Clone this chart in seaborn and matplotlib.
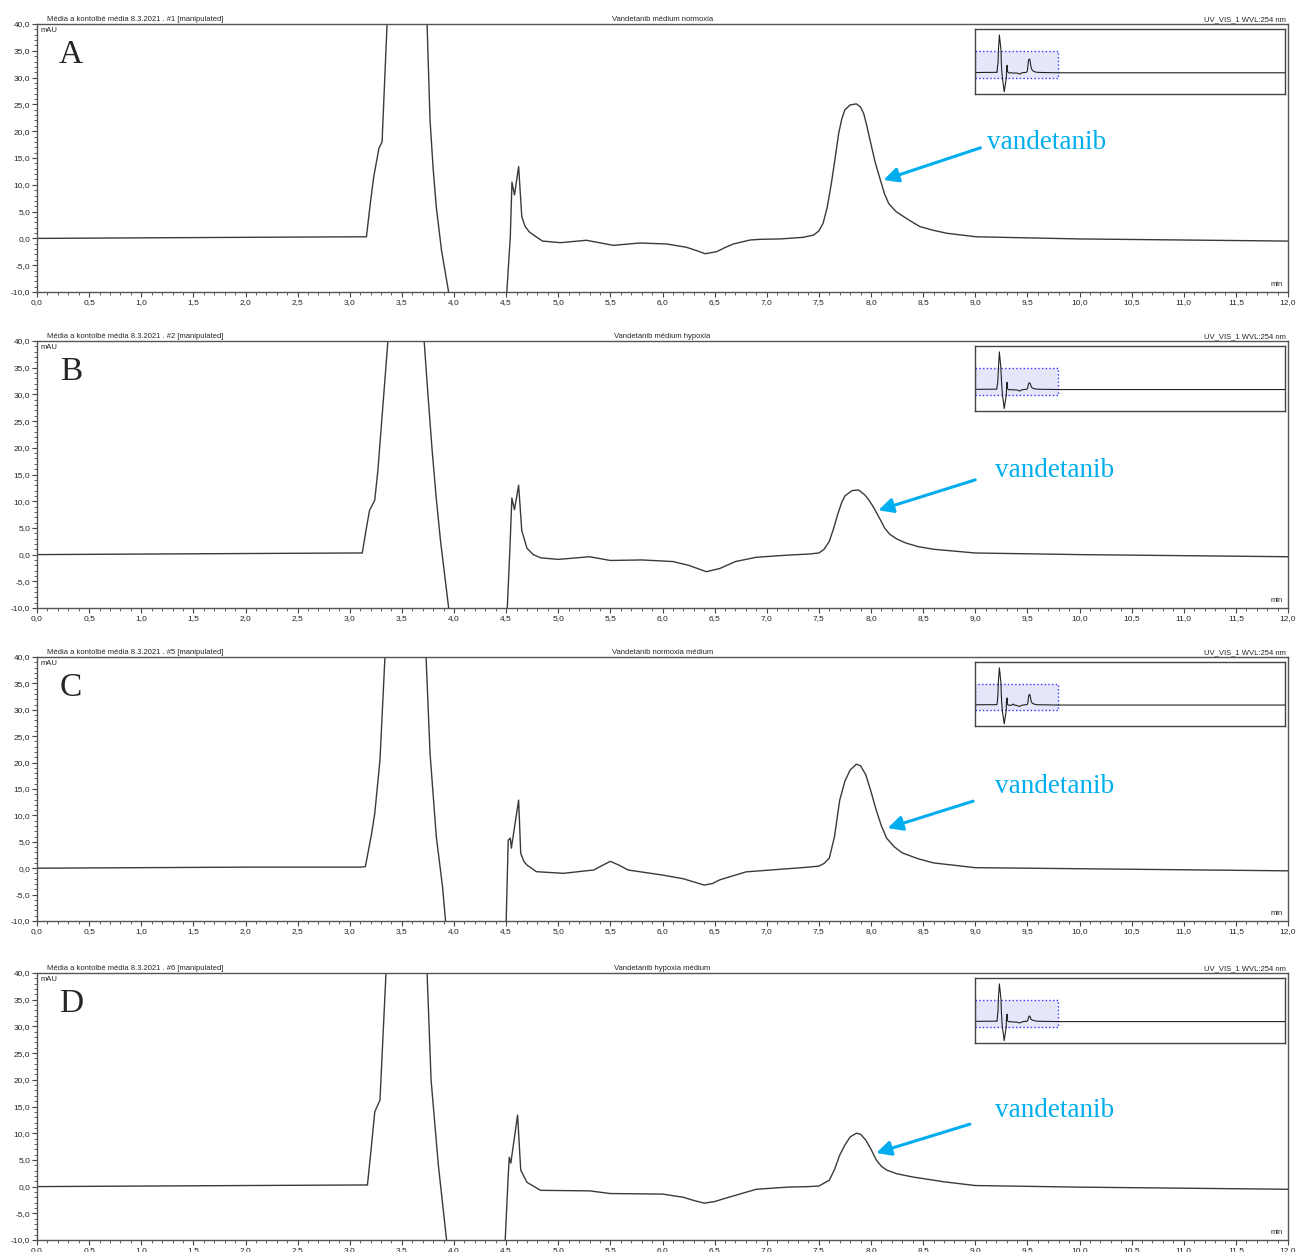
import numpy as np
import pandas as pd
import seaborn as sns
import matplotlib.pyplot as plt
from matplotlib.ticker import MultipleLocator, FuncFormatter
from matplotlib.patches import Rectangle

sns.set_style('ticks')
plt.rcParams['font.family'] = ['Liberation Sans', 'DejaVu Sans']

# retention time (min) / absorbance (mAU)
# (off-scale points are kept so the clipped peaks and the overview inset look right)
time_a = [0.0, 1.0, 2.0, 3.1, 3.16, 3.2, 3.23, 3.28, 3.31, 3.36, 3.5, 3.74, 3.77, 3.8, 3.83, 3.88,
          3.95, 4.2, 4.505, 4.54, 4.556, 4.58, 4.62, 4.65, 4.68, 4.72, 4.78, 4.85, 5.02, 5.27, 5.53,
          5.78, 6.04, 6.23, 6.33, 6.41, 6.52, 6.6, 6.68, 6.84, 6.94, 7.13, 7.35, 7.45, 7.5, 7.54,
          7.58, 7.62, 7.66, 7.69, 7.72, 7.75, 7.8, 7.86, 7.9, 7.93, 7.96, 7.99, 8.04, 8.09, 8.13,
          8.17, 8.24, 8.31, 8.4, 8.47, 8.6, 8.73, 9.01, 10.0, 11.0, 12.0]
mau_a = [0.0, 0.1, 0.2, 0.3, 0.3, 7.0, 11.5, 16.8, 18.0, 41.0, 70.0, 41.0, 22.1, 13.0, 5.9, -2.2,
         -10.2, -36.0, -10.5, 0.3, 10.5, 8.1, 13.4, 4.1, 2.3, 1.25, 0.4, -0.5, -0.8, -0.35, -1.3,
         -0.86, -1.04, -1.66, -2.3, -2.86, -2.48, -1.7, -1.04, -0.3, -0.17, -0.1, 0.2, 0.63, 1.4,
         2.8, 5.8, 10.3, 15.5, 19.6, 22.3, 24.0, 24.9, 25.1, 24.5, 23.3, 21.0, 18.4, 14.2, 10.9,
         8.3, 6.5, 5.0, 4.1, 3.0, 2.2, 1.5, 0.95, 0.3, -0.1, -0.3, -0.5]

time_b = [0.0, 1.0, 2.0, 3.05, 3.12, 3.16, 3.19, 3.24, 3.27, 3.37, 3.5, 3.71, 3.75, 3.79, 3.83,
          3.87, 3.95, 4.2, 4.51, 4.535, 4.555, 4.58, 4.62, 4.65, 4.70, 4.76, 4.83, 5.0, 5.3, 5.5,
          5.8, 6.1, 6.25, 6.42, 6.55, 6.7, 6.9, 7.2, 7.4, 7.5, 7.55, 7.6, 7.64, 7.68, 7.72, 7.75,
          7.82, 7.88, 7.94, 7.98, 8.02, 8.06, 8.09, 8.13, 8.18, 8.25, 8.33, 8.45, 8.6, 9.0, 10.0,
          11.0, 12.0]
mau_b = [0.0, 0.1, 0.2, 0.3, 0.3, 5.0, 8.3, 10.2, 15.8, 41.0, 70.0, 41.0, 30.0, 19.6, 10.5,
         2.7, -10.2, -36.0, -10.5, 0.5, 10.6, 8.4, 13.0, 4.5, 1.2, 0.0, -0.6, -0.9, -0.4, -1.1,
         -1.0, -1.3, -2.0, -3.2, -2.6, -1.3, -0.5, -0.1, 0.1, 0.3, 1.0, 2.5, 4.8, 7.5, 9.8, 11.0,
         12.0, 12.1, 11.2, 10.2, 9.0, 7.6, 6.5, 5.0, 3.8, 2.9, 2.2, 1.5, 1.0, 0.3, 0.0, -0.2, -0.4]

time_c = [0.0, 1.0, 2.0, 3.1, 3.15, 3.21, 3.24, 3.29, 3.34, 3.5, 3.73, 3.77, 3.83, 3.89, 3.92, 4.2,
          4.50, 4.52, 4.54, 4.55, 4.62, 4.64, 4.67, 4.70, 4.79, 5.05, 5.34, 5.42, 5.5, 5.58, 5.67,
          6.0, 6.2, 6.3, 6.4, 6.48, 6.55, 6.8, 7.2, 7.4, 7.5, 7.55, 7.6, 7.65, 7.7, 7.75, 7.8,
          7.86, 7.9, 7.95, 8.0, 8.05, 8.1, 8.15, 8.22, 8.3, 8.45, 8.6, 9.0, 10.0, 11.0, 12.0]
mau_c = [0.0, 0.1, 0.2, 0.2, 0.3, 6.6, 10.4, 20.5, 41.0, 70.0, 41.0, 21.8, 6.0, -3.5, -10.2, -36.0,
         -10.5, 5.3, 5.7, 3.8, 12.9, 2.8, 1.3, 0.6, -0.66, -0.97, -0.34, 0.5, 1.3, 0.6, -0.34,
         -1.3, -2.0, -2.6, -3.2, -2.9, -2.2, -0.7, -0.1, 0.2, 0.4, 0.9, 1.9, 6.0, 12.9, 16.5, 18.6,
         19.7, 19.4, 17.7, 14.5, 11.0, 8.0, 5.7, 4.1, 2.9, 1.8, 1.0, 0.1, -0.1, -0.3, -0.5]

time_d = [0.0, 1.0, 2.0, 3.1, 3.17, 3.21, 3.24, 3.29, 3.35, 3.5, 3.74, 3.78, 3.85, 3.93, 4.2,
          4.49, 4.52, 4.53, 4.545, 4.61, 4.64, 4.7, 4.83, 5.3, 5.5, 6.0, 6.2, 6.3, 6.4, 6.5, 6.6,
          6.9, 7.2, 7.4, 7.5, 7.6, 7.65, 7.7, 7.75, 7.8, 7.86, 7.9, 7.95, 8.0, 8.05, 8.1, 8.15,
          8.25, 8.4, 8.7, 9.0, 10.0, 11.0, 12.0]
mau_d = [0.0, 0.1, 0.2, 0.3, 0.3, 8.0, 14.0, 16.2, 41.0, 70.0, 41.0, 20.0, 4.0, -10.2, -36.0,
         -10.5, 2.0, 5.5, 4.4, 13.4, 3.1, 0.8, -0.7, -0.8, -1.3, -1.4, -2.0, -2.6, -3.1, -2.8,
         -2.2, -0.5, -0.1, 0.0, 0.1, 1.2, 3.2, 5.9, 7.8, 9.3, 10.0, 9.8, 8.7, 7.0, 5.0, 3.8, 3.1,
         2.4, 1.8, 0.9, 0.2, -0.1, -0.3, -0.5]

run_end = 45.0  # total run length shown in the overview inset
letters = ['A', 'B', 'C', 'D']
injections = ['#1', '#2', '#5', '#6']
samples = ['Vandetanib médium normoxia', 'Vandetanib médium hypoxia',
           'Vandetanib normoxia médium', 'Vandetanib hypoxia médium']
# arrow tail / head (min, mAU) and label position for "vandetanib"
arrow_tail = [(9.05, 16.9), (9.0, 14.0), (8.98, 12.7), (8.95, 11.7)]
arrow_head = [(8.12, 10.9), (8.07, 8.3), (8.16, 7.6), (8.05, 6.3)]
label_pos = [(9.11, 17.8), (9.19, 15.8), (9.19, 15.4), (9.19, 14.3)]

traces = [(time_a, mau_a), (time_b, mau_b), (time_c, mau_c), (time_d, mau_d)]

W, H = 1298, 1252
# axes boxes in pixels: left, top, right, bottom
boxes = [(37, 24, 1288, 292), (37, 341, 1288, 608), (37, 657, 1288, 921), (37, 973, 1288, 1240)]

fig = plt.figure(figsize=(W / 100, H / 100), dpi=100)
comma = FuncFormatter(lambda v, p: ('%.1f' % v).replace('.', ','))
trace_col = '#3a3a3a'
blue = '#00AEEF'

for i, (t, y) in enumerate(traces):
    l, tp, r, b = boxes[i]
    ax = fig.add_axes([l / W, 1 - b / H, (r - l) / W, (b - tp) / H])
    df = pd.DataFrame({'min': t, 'mAU': y})
    sns.lineplot(data=df, x='min', y='mAU', ax=ax, color=trace_col, lw=1.0, sort=False)
    ax.set_xlim(0, 12)
    ax.set_ylim(-10, 40)
    ax.set_xlabel('')
    ax.set_ylabel('')
    ax.xaxis.set_major_locator(MultipleLocator(0.5))
    ax.xaxis.set_minor_locator(MultipleLocator(0.1))
    ax.yaxis.set_major_locator(MultipleLocator(5))
    ax.yaxis.set_minor_locator(MultipleLocator(1))
    ax.xaxis.set_major_formatter(comma)
    ax.yaxis.set_major_formatter(comma)
    ax.tick_params(which='major', length=3.5, width=0.8, labelsize=6, pad=1.5, color='#444444')
    ax.tick_params(which='minor', length=2, width=0.6, color='#444444')
    for s in ax.spines.values():
        s.set_color('#555555')
        s.set_linewidth(1.0)

    ax.text(0.008, 1.01, 'Média a kontolbé média 8.3.2021 . %s [manipulated]' % injections[i],
            transform=ax.transAxes, ha='left', va='baseline', fontsize=5.5)
    ax.text(0.5, 1.01, samples[i], transform=ax.transAxes, ha='center', va='baseline', fontsize=5.5)
    ax.text(0.998, 1.01, 'UV_VIS_1 WVL:254 nm', transform=ax.transAxes, ha='right',
            va='baseline', fontsize=5.5)
    ax.text(0.003, 0.99, 'mAU', transform=ax.transAxes, ha='left', va='top', fontsize=5.5)
    ax.text(0.996, 0.015, 'min', transform=ax.transAxes, ha='right', va='bottom', fontsize=5.5)

    ax.text(0.027, 0.885, letters[i], transform=ax.transAxes, ha='center', va='center',
            fontsize=24, family='Liberation Serif')
    ax.annotate('', xy=arrow_head[i], xytext=arrow_tail[i],
                arrowprops=dict(arrowstyle='-|>', color=blue, lw=2.2, mutation_scale=22,
                                shrinkA=0, shrinkB=0))
    ax.text(label_pos[i][0], label_pos[i][1], 'vandetanib', color=blue, fontsize=19.5,
            family='Liberation Serif', ha='left', va='center')

    # overview inset of the whole run
    ins = ax.inset_axes([0.75, 0.739, 0.248, 0.242])
    df_all = pd.DataFrame({'min': list(t) + [run_end], 'mAU': list(y) + [y[-1]]})
    sns.lineplot(data=df_all, x='min', y='mAU', ax=ins, color='#222222', lw=0.8, sort=False)
    ins.add_patch(Rectangle((0, -10), 12, 50, facecolor='#e6e6fb', edgecolor='#3333ff',
                            lw=1.0, ls=':', zorder=0))
    ins.set_xlim(0, run_end)
    ins.set_ylim(-40, 81)
    ins.set_xticks([])
    ins.set_yticks([])
    ins.set_xlabel('')
    ins.set_ylabel('')
    for s in ins.spines.values():
        s.set_color('#444444')
        s.set_linewidth(1.0)

fig.savefig('out.png', dpi=100)
